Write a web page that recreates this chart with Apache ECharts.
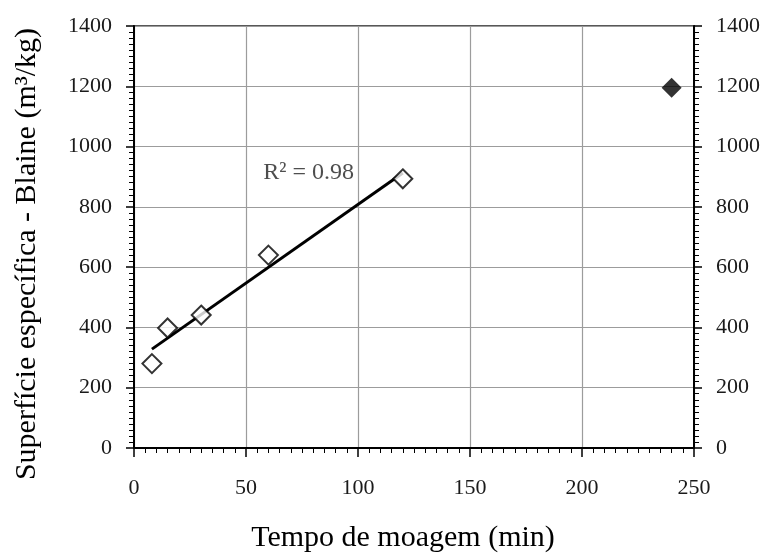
<!DOCTYPE html>
<html>
<head>
<meta charset="utf-8">
<script src="https://cdn.jsdelivr.net/npm/echarts@6/dist/echarts.min.js"></script>
<style>
  html, body { margin: 0; padding: 0; background: #fff; }
  #chart { width: 770px; height: 555px; }
</style>
</head>
<body>
<div id="chart"></div>
<script>
// tempo de moagem (min) x superficie Blaine (m3/kg)
var grindTimes = [8, 15, 30, 60, 120];
var blaineValues = [280, 398, 441, 640, 893];
var refTime = [240];
var refBlaine = [1195];
// linha de tendencia
var trendTimes = [8, 120];
var trendValues = [328, 912];
var xTicks = [0, 50, 100, 150, 200, 250];
var yTicks = [0, 200, 400, 600, 800, 1000, 1200, 1400];
var r2Text = 'R² = 0.98';

var font = '"Liberation Serif", "DejaVu Serif", serif';
var txtColor = '#1a1a1a';

var chart = echarts.init(document.getElementById('chart'));

var pts = grindTimes.map(function (t, i) { return [t, blaineValues[i]]; });
var refPts = refTime.map(function (t, i) { return [t, refBlaine[i]]; });
var trend = trendTimes.map(function (t, i) { return [t, trendValues[i]]; });

var plain = function (v) { return String(v); };

var yAxisBase = {
    type: 'value',
    min: yTicks[0],
    max: yTicks[yTicks.length - 1],
    interval: 200,
    axisLine: {show: true, lineStyle: {color: '#000', width: 2}},
    axisTick: {show: true, length: 8, lineStyle: {color: '#000', width: 1.5}},
    minorTick: {show: true, splitNumber: 10, length: 5, lineStyle: {color: '#000', width: 1}},
    axisLabel: {fontFamily: font, fontSize: 22, color: txtColor, margin: 22, formatter: plain}
};

var option = {
    animation: false,
    backgroundColor: '#fff',
    grid: {
        left: 134, right: 76, top: 26, bottom: 107,
        outerBoundsMode: 'none',
        show: true, borderColor: '#222', borderWidth: 1.5
    },
    xAxis: {
        type: 'value',
        min: xTicks[0],
        max: xTicks[xTicks.length - 1],
        interval: 50,
        axisLine: {show: true, lineStyle: {color: '#000', width: 2}},
        axisTick: {show: true, length: 9, lineStyle: {color: '#000', width: 1.5}},
        minorTick: {show: true, splitNumber: 10, length: 5, lineStyle: {color: '#000', width: 1}},
        axisLabel: {fontFamily: font, fontSize: 22, color: txtColor, margin: 29, formatter: plain},
        splitLine: {show: true, lineStyle: {color: '#9c9c9c', width: 1.2}},
        name: 'Tempo de moagem (min)',
        nameLocation: 'middle',
        nameGap: 75,
        nameTextStyle: {fontFamily: font, fontSize: 30, color: '#000', padding: [0, 22, 0, 0]}
    },
    yAxis: [
        Object.assign({}, yAxisBase, {
            position: 'left',
            splitLine: {show: true, lineStyle: {color: '#9c9c9c', width: 1.2}}
        }),
        Object.assign({}, yAxisBase, {
            position: 'right',
            splitLine: {show: false}
        })
    ],
    graphic: [{
        type: 'text',
        x: 27,
        y: 254,
        rotation: Math.PI / 2,
        style: {
            text: 'Superfície específica - Blaine (m³/kg)',
            font: '30px ' + font,
            fill: '#000',
            align: 'center',
            verticalAlign: 'middle'
        }
    }],
    series: [
        {
            name: 'tendencia',
            type: 'line',
            data: trend,
            symbol: 'none',
            lineStyle: {color: '#000', width: 3},
            z: 2
        },
        {
            name: 'moagem',
            type: 'scatter',
            data: pts,
            symbol: 'diamond',
            symbolSize: 19,
            itemStyle: {color: '#fff', borderColor: '#000', borderWidth: 2},
            z: 3
        },
        {
            name: 'referencia',
            type: 'scatter',
            data: refPts,
            symbol: 'diamond',
            symbolSize: 20,
            itemStyle: {color: '#000'},
            z: 3
        },
        {
            name: 'r2',
            type: 'scatter',
            data: [[78, 912]],
            symbolSize: 0,
            silent: true,
            label: {
                show: true,
                position: 'inside',
                formatter: r2Text,
                fontFamily: font,
                fontSize: 24,
                color: '#222'
            },
            z: 4
        }
    ]
};

chart.setOption(option);
</script>
</body>
</html>
